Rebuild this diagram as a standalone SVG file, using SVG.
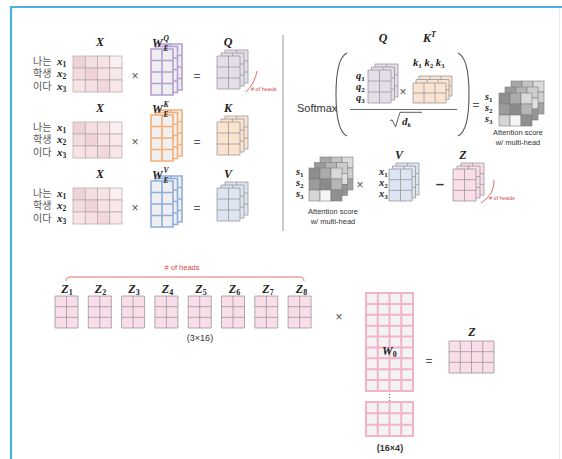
<svg xmlns="http://www.w3.org/2000/svg" xmlns:xlink="http://www.w3.org/1999/xlink" width="562" height="459" viewBox="0 0 562 459">
  <style>
    .frame{stroke:#46b0e6;stroke-width:2.2;fill:none}
    .math{font-family:"Liberation Serif","DejaVu Serif",serif;font-style:italic;font-weight:bold;fill:#222}
    .sub{font-style:normal}
    .sans{font-family:"Liberation Sans",Arial,sans-serif;fill:#333}
    .kr{font-family:"Noto Sans CJK KR","Noto Sans",sans-serif;fill:#555;font-size:10px}
    .op{font-family:"Liberation Sans",Arial,sans-serif;fill:#555;font-size:12px;text-anchor:middle}
    .red{stroke:#d9473f;fill:none;stroke-width:0.8}
    .redt{fill:#d9473f;font-family:"Liberation Sans",Arial,sans-serif}
    .grid{stroke:#9a979d;stroke-width:0.8}
    .lav{fill:#e4deeb}
    .peach{fill:#fbe4cf}
    .sky{fill:#dce5f1}
    .rose{fill:#f9dde8}
    .wq{fill:#efeff1;stroke:#b39fcf;stroke-width:1.6}
    .wk{fill:#f0f0f0;stroke:#f4ad74;stroke-width:1.6}
    .wv{fill:#efeff1;stroke:#8fadda;stroke-width:1.6}
    .xm{stroke:#b7a6a9;stroke-width:0.7}
    .att{stroke:#7d7d7d;stroke-width:0.6}
    .w0{fill:#f3f3f3;stroke:#f2b3ca;stroke-width:2}
    .sep{stroke:#9a9a9a;stroke-width:1}
  </style>
  <defs>
    <!-- 2x3 layer of a projected matrix -->
    <path id="g23" d="M0,0h23v33h-23zM11.5,0v33M0,11h23M0,22h23"/>
    <!-- 2x4 weight layer -->
    <path id="w24" d="M0,0h22v46h-22zM11,0v46M0,11.5h22M0,23h22M0,34.5h22"/>
    <!-- 3x2 transposed key layer -->
    <path id="g32" d="M0,0h33v20h-33zM11,0v20M22,0v20M0,10h33"/>
    <!-- 2x3 head output -->
    <path id="z23" d="M0,0h23v32h-23zM11.5,0v32M0,10.67h23M0,21.33h23"/>
    <!-- input embedding matrix X (3 words x 4 dims) -->
    <g id="xmat" class="xm">
      <rect x="0" y="0" width="12.25" height="12" fill="#eed3d6"/>
      <rect x="12.25" y="0" width="12.25" height="12" fill="#f3dfe1"/>
      <rect x="24.5" y="0" width="12.25" height="12" fill="#f5e3e5"/>
      <rect x="36.75" y="0" width="12.25" height="12" fill="#faf0f1"/>
      <rect x="0" y="12" width="12.25" height="12" fill="#f3dcdf"/>
      <rect x="12.25" y="12" width="12.25" height="12" fill="#efd3d6"/>
      <rect x="24.5" y="12" width="12.25" height="12" fill="#f5e2e4"/>
      <rect x="36.75" y="12" width="12.25" height="12" fill="#f7e8ea"/>
      <rect x="0" y="24" width="12.25" height="12" fill="#f6e4e6"/>
      <rect x="12.25" y="24" width="12.25" height="12" fill="#f5e0e2"/>
      <rect x="24.5" y="24" width="12.25" height="12" fill="#f1d8db"/>
      <rect x="36.75" y="24" width="12.25" height="12" fill="#f7e7e9"/>
    </g>
    <!-- attention score layers (3x3) -->
    <g id="attBack" class="att">
      <rect x="0" y="0" width="11" height="11" fill="#a8a8a8"/>
      <rect x="11" y="0" width="11" height="11" fill="#c4c4c4"/>
      <rect x="22" y="0" width="11" height="11" fill="#dadada"/>
      <rect x="0" y="11" width="11" height="11" fill="#b9b9b9"/>
      <rect x="11" y="11" width="11" height="11" fill="#9d9d9d"/>
      <rect x="22" y="11" width="11" height="11" fill="#cfcfcf"/>
      <rect x="0" y="22" width="11" height="11" fill="#d6d6d6"/>
      <rect x="11" y="22" width="11" height="11" fill="#bcbcbc"/>
      <rect x="22" y="22" width="11" height="11" fill="#a3a3a3"/>
    </g>
    <g id="attMid" class="att">
      <rect x="0" y="0" width="11" height="11" fill="#9a9a9a"/>
      <rect x="11" y="0" width="11" height="11" fill="#b5b5b5"/>
      <rect x="22" y="0" width="11" height="11" fill="#cdcdcd"/>
      <rect x="0" y="11" width="11" height="11" fill="#c2c2c2"/>
      <rect x="11" y="11" width="11" height="11" fill="#a2a2a2"/>
      <rect x="22" y="11" width="11" height="11" fill="#dedede"/>
      <rect x="0" y="22" width="11" height="11" fill="#b0b0b0"/>
      <rect x="11" y="22" width="11" height="11" fill="#d2d2d2"/>
      <rect x="22" y="22" width="11" height="11" fill="#959595"/>
    </g>
    <g id="attFront" class="att">
      <rect x="0" y="0" width="11" height="11" fill="#8e8e8e"/>
      <rect x="11" y="0" width="11" height="11" fill="#ababab"/>
      <rect x="22" y="0" width="11" height="11" fill="#d9d9d9"/>
      <rect x="0" y="11" width="11" height="11" fill="#9c9c9c"/>
      <rect x="11" y="11" width="11" height="11" fill="#8b8b8b"/>
      <rect x="22" y="11" width="11" height="11" fill="#b6b6b6"/>
      <rect x="0" y="22" width="11" height="11" fill="#d5d5d5"/>
      <rect x="11" y="22" width="11" height="11" fill="#f5f5f5"/>
      <rect x="22" y="22" width="11" height="11" fill="#8f8f8f"/>
    </g>
    <!-- one row of the input projection: words, X and operators -->
    <g id="inputs">
      <text class="kr" x="33" y="65">나는</text>
      <text class="kr" x="33" y="77">학생</text>
      <text class="kr" x="33" y="90">이다</text>
      <text class="math" x="57" y="65" font-size="11">x<tspan class="sub" font-size="7.5" dy="2">1</tspan></text>
      <text class="math" x="57" y="77" font-size="11">x<tspan class="sub" font-size="7.5" dy="2">2</tspan></text>
      <text class="math" x="57" y="90" font-size="11">x<tspan class="sub" font-size="7.5" dy="2">3</tspan></text>
      <text class="math" x="100" y="46" font-size="12" text-anchor="middle">X</text>
      <use href="#xmat" x="73" y="56"/>
      <text class="op" x="135" y="80">×</text>
      <text class="op" x="197" y="80" font-size="13">=</text>
    </g>
  </defs>

  <!-- page frame -->
  <g id="frame">
    <line class="frame" x1="10" y1="7" x2="562" y2="7"/>
    <line class="frame" x1="11" y1="6" x2="11" y2="459"/>
    <line x1="559.5" y1="8" x2="559.5" y2="459" stroke="#e2edf6" stroke-width="1"/>
  </g>

  <!-- Query projection -->
  <g id="query-proj">
    <use href="#inputs"/>
    <use href="#w24" class="wq" x="160" y="44"/>
    <use href="#w24" class="wq" x="155.5" y="46.5"/>
    <use href="#w24" class="wq" x="151" y="49"/>
    <text class="math" x="152" y="47" font-size="12">W</text>
    <text class="math" x="163.5" y="41" font-size="7.5">Q</text>
    <text class="math" x="163.5" y="51" font-size="7.5">E</text>
    <text class="math" x="228" y="46" font-size="12" text-anchor="middle">Q</text>
    <use href="#g23" class="lav grid" x="225" y="50"/>
    <use href="#g23" class="lav grid" x="221" y="53"/>
    <use href="#g23" class="lav grid" x="217" y="56"/>
    <path class="red" d="M257,71 Q255,83 246,92"/>
    <text class="redt" x="251" y="91" font-size="5.5"># of heads</text>
  </g>

  <!-- Key projection -->
  <g id="key-proj" transform="translate(0,66)">
    <use href="#inputs"/>
    <use href="#w24" class="wk" x="160" y="44"/>
    <use href="#w24" class="wk" x="155.5" y="46.5"/>
    <use href="#w24" class="wk" x="151" y="49"/>
    <text class="math" x="152" y="47" font-size="12">W</text>
    <text class="math" x="163.5" y="41" font-size="7.5">K</text>
    <text class="math" x="163.5" y="51" font-size="7.5">E</text>
    <text class="math" x="228" y="46" font-size="12" text-anchor="middle">K</text>
    <use href="#g23" class="peach grid" x="225" y="50"/>
    <use href="#g23" class="peach grid" x="221" y="53"/>
    <use href="#g23" class="peach grid" x="217" y="56"/>
  </g>

  <!-- Value projection -->
  <g id="value-proj" transform="translate(0,132)">
    <use href="#inputs"/>
    <use href="#w24" class="wv" x="160" y="44"/>
    <use href="#w24" class="wv" x="155.5" y="46.5"/>
    <use href="#w24" class="wv" x="151" y="49"/>
    <text class="math" x="152" y="47" font-size="12">W</text>
    <text class="math" x="163.5" y="41" font-size="7.5">V</text>
    <text class="math" x="163.5" y="51" font-size="7.5">E</text>
    <text class="math" x="228" y="46" font-size="12" text-anchor="middle">V</text>
    <use href="#g23" class="sky grid" x="225" y="50"/>
    <use href="#g23" class="sky grid" x="221" y="53"/>
    <use href="#g23" class="sky grid" x="217" y="56"/>
  </g>

  <!-- divider between projection and attention -->
  <g id="divider">
    <line class="sep" x1="283" y1="35" x2="283" y2="231"/>
  </g>

  <!-- scaled dot-product softmax -->
  <g id="softmax">
    <text class="sans" x="297" y="112" font-size="11">Softmax</text>
    <path d="M347,53 Q336,58 336,94.5 Q336,131 347,136" fill="none" stroke="#555" stroke-width="1.1"/>
    <path d="M458,53 Q469,58 469,94.5 Q469,131 458,136" fill="none" stroke="#555" stroke-width="1.1"/>
    <text class="math" x="383" y="42" font-size="12" text-anchor="middle">Q</text>
    <text class="math" x="423" y="42" font-size="12">K<tspan font-size="8" dy="-5">T</tspan></text>
    <text class="math" x="356" y="79" font-size="10.5">q<tspan class="sub" font-size="7" dy="2">1</tspan></text>
    <text class="math" x="356" y="90" font-size="10.5">q<tspan class="sub" font-size="7" dy="2">2</tspan></text>
    <text class="math" x="356" y="101" font-size="10.5">q<tspan class="sub" font-size="7" dy="2">3</tspan></text>
    <use href="#g23" class="lav grid" x="375" y="64"/>
    <use href="#g23" class="lav grid" x="371.5" y="67"/>
    <use href="#g23" class="lav grid" x="368" y="70"/>
    <text class="op" x="403" y="96">×</text>
    <text class="math" x="413" y="66" font-size="10.5">k<tspan class="sub" font-size="7" dy="2">1</tspan><tspan dy="-2"> k</tspan><tspan class="sub" font-size="7" dy="2">2</tspan><tspan dy="-2"> k</tspan><tspan class="sub" font-size="7" dy="2">3</tspan></text>
    <use href="#g32" class="peach grid" x="419" y="76"/>
    <use href="#g32" class="peach grid" x="416" y="79.5"/>
    <use href="#g32" class="peach grid" x="413" y="83"/>
    <line x1="350" y1="109.5" x2="457" y2="109.5" stroke="#444" stroke-width="0.8"/>
    <path d="M390,121 l2,-1.2 l3.5,7 l4.5,-14.5 h22" fill="none" stroke="#333" stroke-width="0.8"/>
    <text class="math" x="402" y="125" font-size="11">d<tspan font-size="7" dy="2">k</tspan></text>
  </g>

  <!-- attention scores (softmax output) -->
  <g id="score-top">
    <text class="op" x="476" y="109" font-size="13">=</text>
    <text class="math" x="485" y="100" font-size="10.5">s<tspan class="sub" font-size="7" dy="2">1</tspan></text>
    <text class="math" x="485" y="111" font-size="10.5">s<tspan class="sub" font-size="7" dy="2">2</tspan></text>
    <text class="math" x="485" y="122" font-size="10.5">s<tspan class="sub" font-size="7" dy="2">3</tspan></text>
    <use href="#attBack" x="511" y="81"/>
    <use href="#attMid" x="505" y="87"/>
    <use href="#attFront" x="499" y="93"/>
    <text class="sans" x="518" y="134.5" font-size="7.5" text-anchor="middle">Attention score</text>
    <text class="sans" x="518" y="145" font-size="7.5" text-anchor="middle">w/ multi-head</text>
  </g>

  <!-- scores times values -->
  <g id="score-bottom">
    <text class="math" x="296" y="175" font-size="10.5">s<tspan class="sub" font-size="7" dy="2">1</tspan></text>
    <text class="math" x="296" y="186" font-size="10.5">s<tspan class="sub" font-size="7" dy="2">2</tspan></text>
    <text class="math" x="296" y="197" font-size="10.5">s<tspan class="sub" font-size="7" dy="2">3</tspan></text>
    <use href="#attBack" x="320" y="157"/>
    <use href="#attMid" x="314.5" y="162.5"/>
    <use href="#attFront" x="309" y="168"/>
    <text class="sans" x="333" y="214" font-size="7.5" text-anchor="middle">Attention score</text>
    <text class="sans" x="333" y="224" font-size="7.5" text-anchor="middle">w/ multi-head</text>
    <text class="op" x="360" y="189">×</text>
  </g>

  <g id="value-heads">
    <text class="math" x="399" y="159" font-size="12" text-anchor="middle">V</text>
    <text class="math" x="379" y="175" font-size="10.5">x<tspan class="sub" font-size="7" dy="2">1</tspan></text>
    <text class="math" x="379" y="186" font-size="10.5">x<tspan class="sub" font-size="7" dy="2">2</tspan></text>
    <text class="math" x="379" y="197" font-size="10.5">x<tspan class="sub" font-size="7" dy="2">3</tspan></text>
    <use href="#z23" class="sky grid" x="396" y="163"/>
    <use href="#z23" class="sky grid" x="392.5" y="166"/>
    <use href="#z23" class="sky grid" x="389" y="169"/>
    <text class="sans" x="440" y="189" font-size="15" font-weight="bold" text-anchor="middle">–</text>
  </g>

  <g id="z-heads">
    <text class="math" x="463" y="159" font-size="12" text-anchor="middle">Z</text>
    <use href="#z23" class="rose grid" x="461" y="163"/>
    <use href="#z23" class="rose grid" x="457" y="166"/>
    <use href="#z23" class="rose grid" x="453" y="169"/>
    <path class="red" d="M494,180 Q495,194 481,203"/>
    <text class="redt" x="489" y="200" font-size="5.5"># of heads</text>
  </g>

  <!-- concatenated head outputs -->
  <g id="heads-brace">
    <text class="redt" x="182" y="270" font-size="7.5" text-anchor="middle"># of heads</text>
    <path class="red" d="M66,281 Q66,277 71,277 L299,277 Q304,277 304,281"/>
  </g>
  <g id="z-concat">
    <text class="math" x="67" y="293" font-size="12" text-anchor="middle">Z<tspan class="sub" font-size="8" dy="2">1</tspan></text>
    <text class="math" x="100.5" y="293" font-size="12" text-anchor="middle">Z<tspan class="sub" font-size="8" dy="2">2</tspan></text>
    <text class="math" x="134" y="293" font-size="12" text-anchor="middle">Z<tspan class="sub" font-size="8" dy="2">3</tspan></text>
    <text class="math" x="167.5" y="293" font-size="12" text-anchor="middle">Z<tspan class="sub" font-size="8" dy="2">4</tspan></text>
    <text class="math" x="201" y="293" font-size="12" text-anchor="middle">Z<tspan class="sub" font-size="8" dy="2">5</tspan></text>
    <text class="math" x="234.5" y="293" font-size="12" text-anchor="middle">Z<tspan class="sub" font-size="8" dy="2">6</tspan></text>
    <text class="math" x="268" y="293" font-size="12" text-anchor="middle">Z<tspan class="sub" font-size="8" dy="2">7</tspan></text>
    <text class="math" x="301.5" y="293" font-size="12" text-anchor="middle">Z<tspan class="sub" font-size="8" dy="2">8</tspan></text>
    <use href="#z23" class="rose grid" x="55" y="296"/>
    <use href="#z23" class="rose grid" x="88.3" y="296"/>
    <use href="#z23" class="rose grid" x="121.6" y="296"/>
    <use href="#z23" class="rose grid" x="154.9" y="296"/>
    <use href="#z23" class="rose grid" x="188.2" y="296"/>
    <use href="#z23" class="rose grid" x="221.5" y="296"/>
    <use href="#z23" class="rose grid" x="254.8" y="296"/>
    <use href="#z23" class="rose grid" x="288.1" y="296"/>
    <text class="sans" x="200" y="341" font-size="9" text-anchor="middle">(3×16)</text>
  </g>

  <g id="times-w0">
    <text class="op" x="339" y="321">×</text>
  </g>

  <!-- output projection W0 -->
  <g id="w0">
    <path class="w0" d="M366,293h47v98h-47zM377.75,293v98M389.5,293v98M401.25,293v98M366,303.9h47M366,314.8h47M366,325.7h47M366,336.6h47M366,347.4h47M366,358.3h47M366,369.2h47M366,380.1h47"/>
    <path class="w0" d="M366,402h47v34h-47zM377.75,402v34M389.5,402v34M401.25,402v34M366,413.3h47M366,424.7h47"/>
    <text class="math" x="382" y="355" font-size="12">W<tspan class="sub" font-size="8" dy="2">0</tspan></text>
    <text x="389.5" y="400" font-family="DejaVu Sans,sans-serif" font-size="9" fill="#555" text-anchor="middle">⋮</text>
    <text class="sans" x="390" y="451" font-size="9" font-weight="bold" text-anchor="middle">(16×4)</text>
  </g>

  <g id="z-out">
    <text class="op" x="429" y="365" font-size="14">=</text>
    <text class="math" x="472" y="336" font-size="12" text-anchor="middle">Z</text>
    <path class="rose grid" d="M449,341h45v32h-45zM460.25,341v32M471.5,341v32M482.75,341v32M449,351.67h45M449,362.33h45"/>
  </g>
</svg>
